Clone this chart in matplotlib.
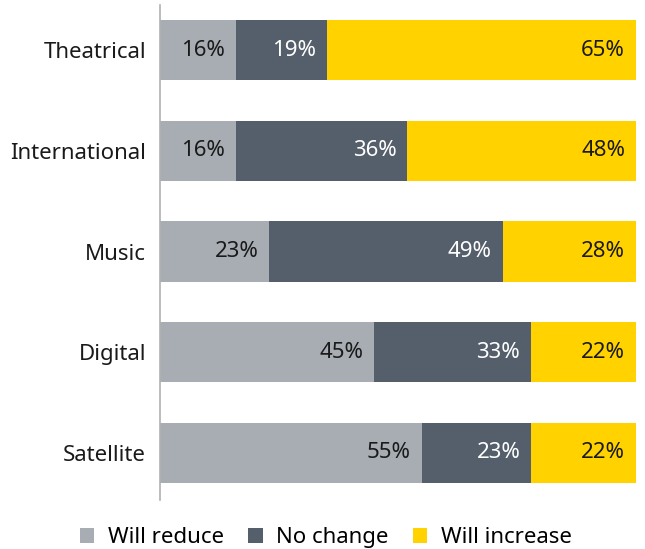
import numpy as np
import matplotlib
matplotlib.use("Agg")
import matplotlib.pyplot as plt
from matplotlib.patches import Patch

plt.rcParams["font.family"] = ["Noto Sans", "DejaVu Sans"]

categories = ["Theatrical", "International", "Music", "Digital", "Satellite"]
will_reduce = [16, 16, 23, 45, 55]
no_change = [19, 36, 49, 33, 23]
will_increase = [65, 48, 28, 22, 22]

series = [
    ("Will reduce", will_reduce, "#A7ADB3", "#1a1a1a"),
    ("No change", no_change, "#555F6B", "white"),
    ("Will increase", will_increase, "#FFD200", "#1a1a1a"),
]

fig = plt.figure(figsize=(6.45, 5.49), dpi=100)
ax = fig.add_axes([0.248, 0.089, 0.738, 0.902])

y = np.arange(len(categories))
left = np.zeros(len(categories))
for name, vals, color, tcolor in series:
    vals = np.array(vals, dtype=float)
    ax.barh(y, vals, left=left, height=0.6, color=color, label=name)
    for yi, l, v in zip(y, left, vals):
        ax.text(l + v - 2.3, yi, f"{v:.0f}%", ha="right", va="center",
                fontsize=16, color=tcolor)
    left += vals

ax.set_xlim(0, 100)
ax.set_ylim(4.47, -0.45)
ax.set_yticks(y)
ax.set_yticklabels(categories, fontsize=16, color="#1a1a1a")
ax.tick_params(axis="y", length=0, pad=10)
ax.set_xticks([])
for s in ["top", "right", "bottom"]:
    ax.spines[s].set_visible(False)
ax.spines["left"].set_color("#B0B0B0")
ax.spines["left"].set_linewidth(1.2)

handles = [Patch(facecolor=c, label=n) for n, _, c, _ in series]
fig.legend(handles=handles, loc="lower center", bbox_to_anchor=(0.505, -0.035),
           ncol=3, frameon=False, fontsize=16, handlelength=0.65, handleheight=0.65,
           handletextpad=0.6, columnspacing=1.1)

fig.savefig("out.png", dpi=100)
